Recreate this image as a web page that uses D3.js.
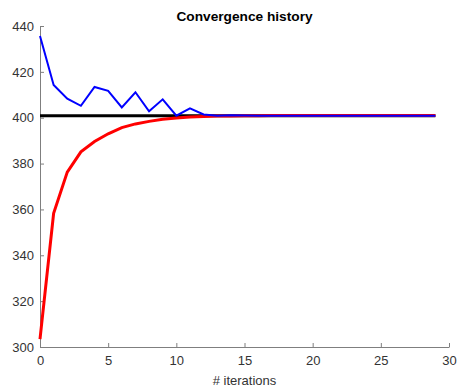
<!DOCTYPE html>
<html>
<head>
<meta charset="utf-8">
<script src="https://cdn.jsdelivr.net/npm/d3@7"></script>
<style>
  body { margin: 0; background: #fff; }
  svg { display: block; font-family: "Liberation Sans", Arial, sans-serif; }
</style>
</head>
<body>
<div id="viz"></div>
<script>
// iteration index 0..29
const iterations = d3.range(0, 30);

// upper estimate (blue), lower estimate (red), reference value (black)
const upperValues = [435.6, 414.3, 408.3, 405.2, 413.4, 411.7, 404.5, 411.1, 402.8, 408.0,
  400.9, 404.1, 401.4, 400.9, 401.1, 401.0, 400.9, 400.9, 400.9, 400.9,
  400.9, 400.9, 400.9, 400.9, 400.9, 400.9, 400.9, 400.9, 400.9, 400.9];
const lowerValues = [303.4, 358.3, 376.3, 385.1, 389.6, 393.0, 395.7, 397.3, 398.4, 399.3,
  399.9, 400.3, 400.5, 400.7, 400.8, 400.9, 400.9, 401.0, 401.0, 401.0,
  401.0, 401.0, 401.0, 401.0, 401.0, 401.0, 401.0, 401.0, 401.0, 401.0];
const referenceValue = 400.9;

const xTicks = [0, 5, 10, 15, 20, 25, 30];
const yTicks = [300, 320, 340, 360, 380, 400, 420, 440];

const width = 459, height = 391;
const margin = { top: 26, right: 10, bottom: 44, left: 40 };

const svg = d3.select("#viz")
  .append("svg")
  .attr("width", width)
  .attr("height", height);

const x = d3.scaleLinear().domain([0, 30]).range([margin.left, 449]);
const y = d3.scaleLinear().domain([300, 440]).range([347, margin.top]);

const axisColor = "#7f7f7f";
const labelColor = "#333";

// axes, MATLAB style with inward ticks
const xAxis = svg.append("g")
  .attr("transform", `translate(0,${y(300)})`)
  .call(d3.axisBottom(x).tickValues(xTicks).tickSize(-4).tickPadding(9).tickSizeOuter(0));
const yAxis = svg.append("g")
  .attr("transform", `translate(${x(0)},0)`)
  .call(d3.axisLeft(y).tickValues(yTicks).tickSize(-4).tickPadding(6).tickSizeOuter(0));

[xAxis, yAxis].forEach(g => {
  g.select(".domain").attr("stroke", axisColor).attr("stroke-width", 1);
  g.selectAll(".tick line").attr("stroke", axisColor);
  g.selectAll(".tick text").attr("fill", labelColor).style("font-size", "13px");
});

const line = d3.line()
  .x((d, i) => x(iterations[i]))
  .y(d => y(d));

svg.append("line")
  .attr("x1", x(0)).attr("x2", x(29))
  .attr("y1", y(referenceValue)).attr("y2", y(referenceValue))
  .attr("stroke", "#000")
  .attr("stroke-width", 3);

svg.append("path")
  .datum(lowerValues)
  .attr("d", line)
  .attr("fill", "none")
  .attr("stroke", "#ff0000")
  .attr("stroke-width", 3);

svg.append("path")
  .datum(upperValues)
  .attr("d", line)
  .attr("fill", "none")
  .attr("stroke", "#0000ff")
  .attr("stroke-width", 2);

svg.append("text")
  .text("Convergence history")
  .attr("x", (x(0) + x(30)) / 2)
  .attr("y", 21)
  .attr("text-anchor", "middle")
  .style("font-weight", "bold")
  .style("font-size", "13.7px")
  .attr("fill", "#000");

svg.append("text")
  .text("# iterations")
  .attr("x", (x(0) + x(30)) / 2)
  .attr("y", 385)
  .attr("text-anchor", "middle")
  .style("font-size", "13px")
  .attr("fill", labelColor);
</script>
</body>
</html>
